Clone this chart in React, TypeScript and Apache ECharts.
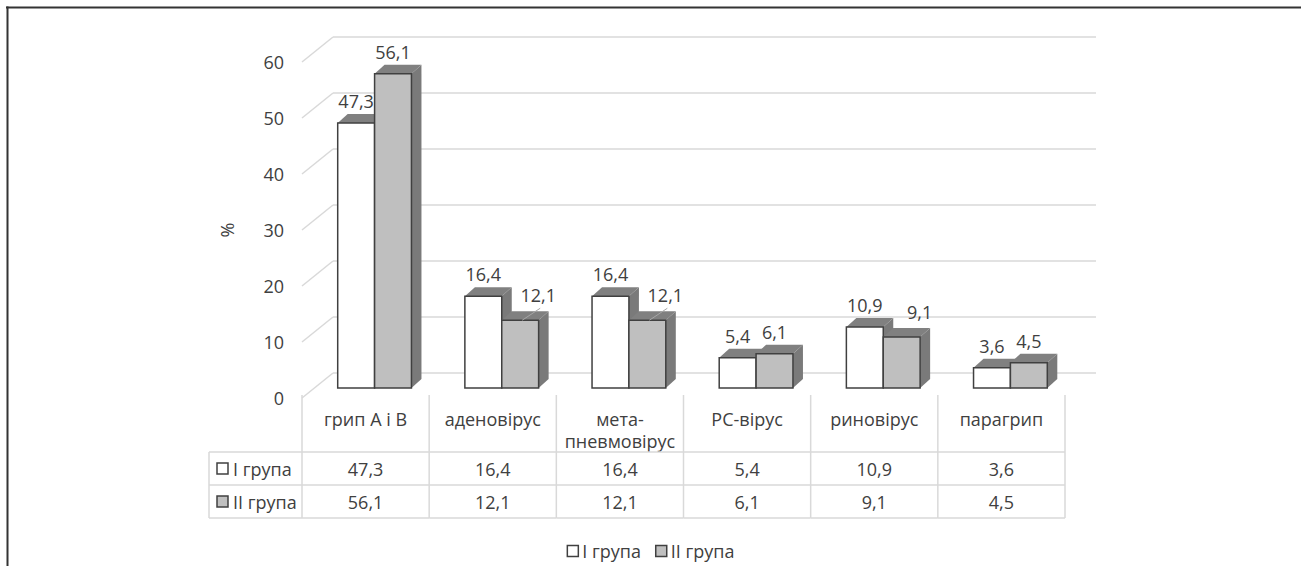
import React, { useEffect, useRef } from "react";
import * as echarts from "echarts";

const categories = ["грип А і В", "аденовірус", "мета-\nпневмовірус", "РС-вірус", "риновірус", "парагрип"];
const seriesNames = ["І група", "ІІ група"];
const group1 = [47.3, 16.4, 16.4, 5.4, 10.9, 3.6];
const group2 = [56.1, 12.1, 12.1, 6.1, 9.1, 4.5];
const yTicks = [0, 10, 20, 30, 40, 50, 60];

const FONT = "Open Sans";
const TEXT = "#404040";
const GRID_LINE = "#d9d9d9";
const FACE = ["#ffffff", "#bfbfbf"];
const SIDE = "#7a7a7a";
const TOP = "#808080";
const WALL_DX = 31;
const WALL_DY = -25;
const BAR_DX = 9;
const BAR_DY = -10;
const DEPTH_X = 10;
const DEPTH_Y = -9;

const fmt = (v: number) => v.toFixed(1).replace(".", ",");

export default function App() {
  const ref = useRef<HTMLDivElement>(null);
  useEffect(() => {
    if (!ref.current) return;
    const chart = echarts.init(ref.current, null, { renderer: "svg" });
    const values = [group1, group2];

    const barSeries = values.map((arr, s) => ({
      type: "custom",
      name: seriesNames[s],
      z: 3 + s,
      clip: false,
      itemStyle: { color: FACE[s] },
      data: arr.map((v, i) => [i, v]),
      renderItem: (params: any, api: any) => {
        const i = api.value(0);
        const v = api.value(1);
        const base = api.coord([i, 0]);
        const top = api.coord([i, v]);
        const bw = api.size([1, 0])[0];
        const w = bw * 0.29;
        const cx = base[0] + BAR_DX;
        const left = s === 0 ? cx - w : cx;
        const y0 = base[1] + BAR_DY;
        const y1 = top[1] + BAR_DY;
        const children: any[] = [
          {
            type: "polygon",
            shape: { points: [[left + w, y1], [left + w + DEPTH_X, y1 + DEPTH_Y], [left + w + DEPTH_X, y0 + DEPTH_Y], [left + w, y0]] },
            style: { fill: SIDE },
          },
          {
            type: "polygon",
            shape: { points: [[left, y1], [left + DEPTH_X, y1 + DEPTH_Y], [left + w + DEPTH_X, y1 + DEPTH_Y], [left + w, y1]] },
            style: { fill: TOP },
          },
          {
            type: "rect",
            shape: { x: left, y: y1, width: w, height: y0 - y1 },
            style: { fill: FACE[s], stroke: "#404040", lineWidth: 1.5 },
          },
        ];
        const other = values[1 - s][i];
        let lx = left + w / 2;
        let ly = y1 - 22;
        if (s === 1 && v < other) {
          lx += 18;
          ly -= 3;
          if (other - v > 3) {
            children.push({
              type: "line",
              shape: { x1: lx + 2, y1: ly + 13, x2: left + w / 2 + 2, y2: y1 },
              style: { stroke: "#a6a6a6", lineWidth: 1 },
            });
          }
        }
        children.push({
          type: "text",
          style: { text: fmt(v), x: lx, y: ly, align: "center", verticalAlign: "middle", fontSize: 18, fontFamily: FONT, fill: TEXT },
        });
        return { type: "group", children };
      },
    }));

    const wallSeries = {
      type: "custom",
      name: "wall",
      z: 1,
      clip: false,
      silent: true,
      data: yTicks.map((t) => [0, t]),
      renderItem: (params: any, api: any) => {
        const p = api.coord([0, api.value(1)]);
        const cs = params.coordSys;
        const y = p[1];
        return {
          type: "group",
          children: [
            { type: "line", shape: { x1: cs.x, y1: y, x2: cs.x + WALL_DX, y2: y + WALL_DY }, style: { stroke: GRID_LINE, lineWidth: 1.5 } },
            { type: "line", shape: { x1: cs.x + WALL_DX, y1: y + WALL_DY, x2: cs.x + cs.width + WALL_DX, y2: y + WALL_DY }, style: { stroke: GRID_LINE, lineWidth: 1.5 } },
          ],
        };
      },
    };

    const tableSeries = {
      type: "custom",
      name: "table",
      z: 2,
      clip: false,
      silent: true,
      data: categories.map((c, i) => [i, group1[i], group2[i]]),
      renderItem: (params: any, api: any) => {
        const i = api.value(0);
        const base = api.coord([i, 0]);
        const bw = api.size([1, 0])[0];
        const left = base[0] - bw / 2;
        const right = base[0] + bw / 2;
        const hTop = base[1] - 3;
        const r1 = base[1] + 54;
        const r2 = base[1] + 87;
        const bot = base[1] + 120;
        const ls = { stroke: GRID_LINE, lineWidth: 1.5 };
        const children: any[] = [
          { type: "line", shape: { x1: left, y1: hTop, x2: left, y2: bot }, style: ls },
          { type: "line", shape: { x1: left, y1: r1, x2: right, y2: r1 }, style: ls },
          { type: "line", shape: { x1: left, y1: r2, x2: right, y2: r2 }, style: ls },
          { type: "line", shape: { x1: left, y1: bot, x2: right, y2: bot }, style: ls },
          {
            type: "text",
            style: { text: fmt(api.value(1)), x: base[0], y: (r1 + r2) / 2, align: "center", verticalAlign: "middle", fontSize: 18, fontFamily: FONT, fill: TEXT },
          },
          {
            type: "text",
            style: { text: fmt(api.value(2)), x: base[0], y: (r2 + bot) / 2, align: "center", verticalAlign: "middle", fontSize: 18, fontFamily: FONT, fill: TEXT },
          },
        ];
        if (i === categories.length - 1) {
          children.push({ type: "line", shape: { x1: right, y1: hTop, x2: right, y2: bot }, style: ls });
        }
        if (i === 0) {
          const l0 = left - 93;
          children.push(
            { type: "line", shape: { x1: l0, y1: r1, x2: l0, y2: bot }, style: ls },
            { type: "line", shape: { x1: l0, y1: r1, x2: left, y2: r1 }, style: ls },
            { type: "line", shape: { x1: l0, y1: r2, x2: left, y2: r2 }, style: ls },
            { type: "line", shape: { x1: l0, y1: bot, x2: left, y2: bot }, style: ls }
          );
          [r1, r2].forEach((rt, k) => {
            const cy = rt + 16.5;
            children.push(
              { type: "rect", shape: { x: l0 + 8, y: cy - 5.5, width: 11, height: 11 }, style: { fill: FACE[k], stroke: "#404040", lineWidth: 1.5 } },
              { type: "text", style: { text: seriesNames[k], x: l0 + 24, y: cy, align: "left", verticalAlign: "middle", fontSize: 18, fontFamily: FONT, fill: TEXT } }
            );
          });
        }
        return { type: "group", children };
      },
    };

    chart.setOption({
      animation: false,
      textStyle: { fontFamily: FONT },
      grid: { left: 302, top: 62, width: 763, height: 336, containLabel: false },
      xAxis: {
        type: "category",
        data: categories,
        axisLine: { show: false },
        axisTick: { show: false },
        splitLine: { show: false },
        axisLabel: { color: TEXT, fontSize: 18, fontFamily: FONT, margin: 10, lineHeight: 22, interval: 0 },
      },
      yAxis: {
        type: "value",
        min: 0,
        max: 60,
        interval: 10,
        name: "%",
        nameLocation: "middle",
        nameGap: 66,
        nameRotate: 90,
        nameTextStyle: { color: TEXT, fontSize: 18, fontFamily: FONT },
        axisLine: { show: false },
        axisTick: { show: false },
        splitLine: { show: false },
        axisLabel: { color: TEXT, fontSize: 18, fontFamily: FONT, margin: 18 },
      },
      legend: {
        top: 537,
        left: "center",
        itemWidth: 11,
        itemHeight: 11,
        itemGap: 14,
        textStyle: { color: TEXT, fontSize: 18, fontFamily: FONT, padding: [0, 0, 0, -1] },
        data: seriesNames.map((n, k) => ({
          name: n,
          icon: "rect",
          itemStyle: { color: FACE[k], borderColor: "#404040", borderWidth: 1.5 },
        })),
      },
      graphic: [
        {
          type: "line",
          z: 0,
          silent: true,
          shape: { x1: 6, y1: 7.5, x2: 1301, y2: 7.5 },
          style: { stroke: "#333333", lineWidth: 2 },
        },
        {
          type: "line",
          z: 0,
          silent: true,
          shape: { x1: 7.5, y1: 6.5, x2: 7.5, y2: 566 },
          style: { stroke: "#333333", lineWidth: 2 },
        },
      ],
      series: [wallSeries, tableSeries, ...barSeries],
    });
    return () => chart.dispose();
  }, []);
  return <div ref={ref} style={{ position: "absolute", left: 0, top: 0, width: 1301, height: 566 }} />;
}
